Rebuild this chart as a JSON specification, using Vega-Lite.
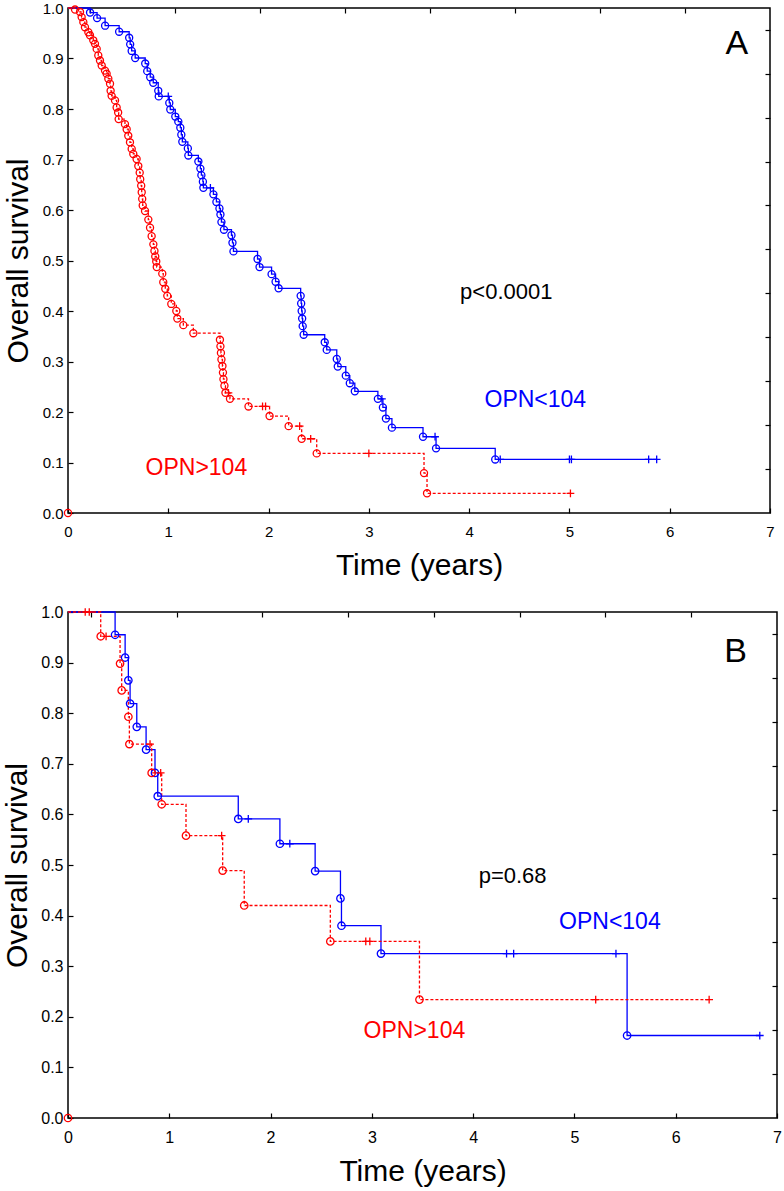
{
  "$schema": "https://vega.github.io/schema/vega-lite/v6.json",
  "padding": {"left": 2, "top": 0, "right": 0, "bottom": 0},
  "bounds": "flush",
  "spacing": 99,
  "config": {
    "font": "Liberation Sans",
    "view": {"stroke": "#000000", "strokeWidth": 1.5},
    "axis": {"grid": false, "domain": false, "tickColor": "#000000", "tickWidth": 1.2, "labelColor": "#000000", "titleColor": "#000000", "titleFontWeight": "normal", "labelOverlap": false, "labelFlush": false}
  },
  "datasets": {
    "km": [
      {"panel":"A","group":"OPN<104","kind":"start","t":0,"s":1},
      {"panel":"A","group":"OPN<104","kind":"event","t":0.22,"s":0.991},
      {"panel":"A","group":"OPN<104","kind":"event","t":0.29,"s":0.98},
      {"panel":"A","group":"OPN<104","kind":"event","t":0.37,"s":0.965},
      {"panel":"A","group":"OPN<104","kind":"event","t":0.51,"s":0.953},
      {"panel":"A","group":"OPN<104","kind":"event","t":0.61,"s":0.941},
      {"panel":"A","group":"OPN<104","kind":"event","t":0.62,"s":0.928},
      {"panel":"A","group":"OPN<104","kind":"event","t":0.635,"s":0.915},
      {"panel":"A","group":"OPN<104","kind":"event","t":0.67,"s":0.901},
      {"panel":"A","group":"OPN<104","kind":"event","t":0.77,"s":0.89},
      {"panel":"A","group":"OPN<104","kind":"event","t":0.79,"s":0.875},
      {"panel":"A","group":"OPN<104","kind":"event","t":0.82,"s":0.863},
      {"panel":"A","group":"OPN<104","kind":"event","t":0.85,"s":0.852},
      {"panel":"A","group":"OPN<104","kind":"event","t":0.9,"s":0.836},
      {"panel":"A","group":"OPN<104","kind":"event","t":0.905,"s":0.825},
      {"panel":"A","group":"OPN<104","kind":"censor","t":1.0,"s":0.825},
      {"panel":"A","group":"OPN<104","kind":"event","t":1.01,"s":0.812},
      {"panel":"A","group":"OPN<104","kind":"event","t":1.02,"s":0.799},
      {"panel":"A","group":"OPN<104","kind":"event","t":1.07,"s":0.785},
      {"panel":"A","group":"OPN<104","kind":"event","t":1.1,"s":0.775},
      {"panel":"A","group":"OPN<104","kind":"event","t":1.12,"s":0.763},
      {"panel":"A","group":"OPN<104","kind":"event","t":1.13,"s":0.749},
      {"panel":"A","group":"OPN<104","kind":"event","t":1.14,"s":0.735},
      {"panel":"A","group":"OPN<104","kind":"event","t":1.195,"s":0.722},
      {"panel":"A","group":"OPN<104","kind":"event","t":1.2,"s":0.708},
      {"panel":"A","group":"OPN<104","kind":"event","t":1.3,"s":0.696},
      {"panel":"A","group":"OPN<104","kind":"event","t":1.32,"s":0.682},
      {"panel":"A","group":"OPN<104","kind":"event","t":1.33,"s":0.669},
      {"panel":"A","group":"OPN<104","kind":"event","t":1.345,"s":0.656},
      {"panel":"A","group":"OPN<104","kind":"event","t":1.35,"s":0.644},
      {"panel":"A","group":"OPN<104","kind":"censor","t":1.42,"s":0.644},
      {"panel":"A","group":"OPN<104","kind":"event","t":1.45,"s":0.631},
      {"panel":"A","group":"OPN<104","kind":"event","t":1.48,"s":0.616},
      {"panel":"A","group":"OPN<104","kind":"event","t":1.51,"s":0.603},
      {"panel":"A","group":"OPN<104","kind":"event","t":1.52,"s":0.591},
      {"panel":"A","group":"OPN<104","kind":"event","t":1.53,"s":0.576},
      {"panel":"A","group":"OPN<104","kind":"event","t":1.555,"s":0.561},
      {"panel":"A","group":"OPN<104","kind":"event","t":1.63,"s":0.55},
      {"panel":"A","group":"OPN<104","kind":"event","t":1.64,"s":0.535},
      {"panel":"A","group":"OPN<104","kind":"event","t":1.65,"s":0.518},
      {"panel":"A","group":"OPN<104","kind":"event","t":1.89,"s":0.503},
      {"panel":"A","group":"OPN<104","kind":"event","t":1.91,"s":0.487},
      {"panel":"A","group":"OPN<104","kind":"event","t":2.03,"s":0.473},
      {"panel":"A","group":"OPN<104","kind":"event","t":2.07,"s":0.458},
      {"panel":"A","group":"OPN<104","kind":"event","t":2.1,"s":0.445},
      {"panel":"A","group":"OPN<104","kind":"event","t":2.32,"s":0.43},
      {"panel":"A","group":"OPN<104","kind":"event","t":2.325,"s":0.415},
      {"panel":"A","group":"OPN<104","kind":"event","t":2.33,"s":0.4},
      {"panel":"A","group":"OPN<104","kind":"event","t":2.335,"s":0.385},
      {"panel":"A","group":"OPN<104","kind":"event","t":2.34,"s":0.37},
      {"panel":"A","group":"OPN<104","kind":"event","t":2.35,"s":0.353},
      {"panel":"A","group":"OPN<104","kind":"event","t":2.56,"s":0.338},
      {"panel":"A","group":"OPN<104","kind":"event","t":2.58,"s":0.323},
      {"panel":"A","group":"OPN<104","kind":"event","t":2.68,"s":0.305},
      {"panel":"A","group":"OPN<104","kind":"event","t":2.69,"s":0.29},
      {"panel":"A","group":"OPN<104","kind":"event","t":2.77,"s":0.272},
      {"panel":"A","group":"OPN<104","kind":"event","t":2.81,"s":0.257},
      {"panel":"A","group":"OPN<104","kind":"event","t":2.86,"s":0.241},
      {"panel":"A","group":"OPN<104","kind":"event","t":3.09,"s":0.226},
      {"panel":"A","group":"OPN<104","kind":"censor","t":3.13,"s":0.226},
      {"panel":"A","group":"OPN<104","kind":"event","t":3.14,"s":0.209},
      {"panel":"A","group":"OPN<104","kind":"event","t":3.17,"s":0.187},
      {"panel":"A","group":"OPN<104","kind":"event","t":3.23,"s":0.169},
      {"panel":"A","group":"OPN<104","kind":"event","t":3.54,"s":0.151},
      {"panel":"A","group":"OPN<104","kind":"censor","t":3.66,"s":0.151},
      {"panel":"A","group":"OPN<104","kind":"event","t":3.67,"s":0.128},
      {"panel":"A","group":"OPN<104","kind":"event","t":4.26,"s":0.106},
      {"panel":"A","group":"OPN<104","kind":"censor","t":4.31,"s":0.106},
      {"panel":"A","group":"OPN<104","kind":"censor","t":5.0,"s":0.106},
      {"panel":"A","group":"OPN<104","kind":"censor","t":5.02,"s":0.106},
      {"panel":"A","group":"OPN<104","kind":"censor","t":5.79,"s":0.106},
      {"panel":"A","group":"OPN<104","kind":"censor","t":5.87,"s":0.106},

      {"panel":"A","group":"OPN>104","kind":"origin","t":0,"s":0},
      {"panel":"A","group":"OPN>104","kind":"start","t":0,"s":1},
      {"panel":"A","group":"OPN>104","kind":"event","t":0.07,"s":0.997},
      {"panel":"A","group":"OPN>104","kind":"event","t":0.12,"s":0.992},
      {"panel":"A","group":"OPN>104","kind":"event","t":0.136,"s":0.982},
      {"panel":"A","group":"OPN>104","kind":"event","t":0.153,"s":0.972},
      {"panel":"A","group":"OPN>104","kind":"event","t":0.169,"s":0.962},
      {"panel":"A","group":"OPN>104","kind":"event","t":0.203,"s":0.952},
      {"panel":"A","group":"OPN>104","kind":"event","t":0.219,"s":0.946},
      {"panel":"A","group":"OPN>104","kind":"event","t":0.252,"s":0.936},
      {"panel":"A","group":"OPN>104","kind":"event","t":0.269,"s":0.929},
      {"panel":"A","group":"OPN>104","kind":"event","t":0.286,"s":0.919},
      {"panel":"A","group":"OPN>104","kind":"event","t":0.302,"s":0.906},
      {"panel":"A","group":"OPN>104","kind":"event","t":0.319,"s":0.896},
      {"panel":"A","group":"OPN>104","kind":"event","t":0.336,"s":0.886},
      {"panel":"A","group":"OPN>104","kind":"event","t":0.369,"s":0.876},
      {"panel":"A","group":"OPN>104","kind":"event","t":0.385,"s":0.87},
      {"panel":"A","group":"OPN>104","kind":"event","t":0.402,"s":0.86},
      {"panel":"A","group":"OPN>104","kind":"event","t":0.419,"s":0.85},
      {"panel":"A","group":"OPN>104","kind":"event","t":0.425,"s":0.836},
      {"panel":"A","group":"OPN>104","kind":"event","t":0.435,"s":0.826},
      {"panel":"A","group":"OPN>104","kind":"event","t":0.469,"s":0.817},
      {"panel":"A","group":"OPN>104","kind":"event","t":0.485,"s":0.803},
      {"panel":"A","group":"OPN>104","kind":"event","t":0.5,"s":0.793},
      {"panel":"A","group":"OPN>104","kind":"event","t":0.505,"s":0.78},
      {"panel":"A","group":"OPN>104","kind":"event","t":0.568,"s":0.77},
      {"panel":"A","group":"OPN>104","kind":"event","t":0.585,"s":0.76},
      {"panel":"A","group":"OPN>104","kind":"event","t":0.601,"s":0.747},
      {"panel":"A","group":"OPN>104","kind":"event","t":0.618,"s":0.734},
      {"panel":"A","group":"OPN>104","kind":"event","t":0.635,"s":0.721},
      {"panel":"A","group":"OPN>104","kind":"event","t":0.651,"s":0.711},
      {"panel":"A","group":"OPN>104","kind":"event","t":0.684,"s":0.701},
      {"panel":"A","group":"OPN>104","kind":"event","t":0.701,"s":0.687},
      {"panel":"A","group":"OPN>104","kind":"event","t":0.715,"s":0.674},
      {"panel":"A","group":"OPN>104","kind":"event","t":0.72,"s":0.661},
      {"panel":"A","group":"OPN>104","kind":"event","t":0.73,"s":0.648},
      {"panel":"A","group":"OPN>104","kind":"event","t":0.735,"s":0.635},
      {"panel":"A","group":"OPN>104","kind":"event","t":0.74,"s":0.622},
      {"panel":"A","group":"OPN>104","kind":"event","t":0.745,"s":0.609},
      {"panel":"A","group":"OPN>104","kind":"event","t":0.768,"s":0.598},
      {"panel":"A","group":"OPN>104","kind":"event","t":0.801,"s":0.581},
      {"panel":"A","group":"OPN>104","kind":"event","t":0.818,"s":0.565},
      {"panel":"A","group":"OPN>104","kind":"event","t":0.834,"s":0.548},
      {"panel":"A","group":"OPN>104","kind":"event","t":0.851,"s":0.532},
      {"panel":"A","group":"OPN>104","kind":"event","t":0.862,"s":0.519},
      {"panel":"A","group":"OPN>104","kind":"event","t":0.87,"s":0.508},
      {"panel":"A","group":"OPN>104","kind":"event","t":0.88,"s":0.498},
      {"panel":"A","group":"OPN>104","kind":"event","t":0.885,"s":0.487},
      {"panel":"A","group":"OPN>104","kind":"event","t":0.94,"s":0.474},
      {"panel":"A","group":"OPN>104","kind":"event","t":0.95,"s":0.457},
      {"panel":"A","group":"OPN>104","kind":"event","t":0.97,"s":0.444},
      {"panel":"A","group":"OPN>104","kind":"event","t":0.99,"s":0.43},
      {"panel":"A","group":"OPN>104","kind":"event","t":1.03,"s":0.414},
      {"panel":"A","group":"OPN>104","kind":"event","t":1.08,"s":0.4},
      {"panel":"A","group":"OPN>104","kind":"event","t":1.09,"s":0.385},
      {"panel":"A","group":"OPN>104","kind":"event","t":1.15,"s":0.372},
      {"panel":"A","group":"OPN>104","kind":"event","t":1.25,"s":0.356},
      {"panel":"A","group":"OPN>104","kind":"event","t":1.515,"s":0.343},
      {"panel":"A","group":"OPN>104","kind":"event","t":1.52,"s":0.33},
      {"panel":"A","group":"OPN>104","kind":"event","t":1.525,"s":0.317},
      {"panel":"A","group":"OPN>104","kind":"event","t":1.53,"s":0.304},
      {"panel":"A","group":"OPN>104","kind":"event","t":1.54,"s":0.291},
      {"panel":"A","group":"OPN>104","kind":"event","t":1.545,"s":0.278},
      {"panel":"A","group":"OPN>104","kind":"event","t":1.55,"s":0.265},
      {"panel":"A","group":"OPN>104","kind":"event","t":1.56,"s":0.252},
      {"panel":"A","group":"OPN>104","kind":"event","t":1.57,"s":0.238},
      {"panel":"A","group":"OPN>104","kind":"censor","t":1.6,"s":0.238},
      {"panel":"A","group":"OPN>104","kind":"event","t":1.615,"s":0.226},
      {"panel":"A","group":"OPN>104","kind":"event","t":1.8,"s":0.211},
      {"panel":"A","group":"OPN>104","kind":"censor","t":1.94,"s":0.211},
      {"panel":"A","group":"OPN>104","kind":"censor","t":1.97,"s":0.211},
      {"panel":"A","group":"OPN>104","kind":"event","t":2.01,"s":0.192},
      {"panel":"A","group":"OPN>104","kind":"event","t":2.2,"s":0.172},
      {"panel":"A","group":"OPN>104","kind":"censor","t":2.31,"s":0.172},
      {"panel":"A","group":"OPN>104","kind":"event","t":2.33,"s":0.147},
      {"panel":"A","group":"OPN>104","kind":"censor","t":2.42,"s":0.147},
      {"panel":"A","group":"OPN>104","kind":"event","t":2.48,"s":0.118},
      {"panel":"A","group":"OPN>104","kind":"censor","t":3.0,"s":0.118},
      {"panel":"A","group":"OPN>104","kind":"event","t":3.55,"s":0.079},
      {"panel":"A","group":"OPN>104","kind":"event","t":3.58,"s":0.039},
      {"panel":"A","group":"OPN>104","kind":"censor","t":5.01,"s":0.039},

      {"panel":"B","group":"OPN<104","kind":"start","t":0,"s":1},
      {"panel":"B","group":"OPN<104","kind":"event","t":0.465,"s":0.955},
      {"panel":"B","group":"OPN<104","kind":"event","t":0.564,"s":0.91},
      {"panel":"B","group":"OPN<104","kind":"event","t":0.596,"s":0.865},
      {"panel":"B","group":"OPN<104","kind":"event","t":0.613,"s":0.819},
      {"panel":"B","group":"OPN<104","kind":"event","t":0.679,"s":0.773},
      {"panel":"B","group":"OPN<104","kind":"event","t":0.771,"s":0.728},
      {"panel":"B","group":"OPN<104","kind":"event","t":0.859,"s":0.682},
      {"panel":"B","group":"OPN<104","kind":"event","t":0.886,"s":0.636},
      {"panel":"B","group":"OPN<104","kind":"event","t":1.681,"s":0.591},
      {"panel":"B","group":"OPN<104","kind":"censor","t":1.78,"s":0.591},
      {"panel":"B","group":"OPN<104","kind":"event","t":2.092,"s":0.542},
      {"panel":"B","group":"OPN<104","kind":"censor","t":2.19,"s":0.542},
      {"panel":"B","group":"OPN<104","kind":"event","t":2.44,"s":0.488},
      {"panel":"B","group":"OPN<104","kind":"event","t":2.69,"s":0.434},
      {"panel":"B","group":"OPN<104","kind":"event","t":2.7,"s":0.38},
      {"panel":"B","group":"OPN<104","kind":"event","t":3.09,"s":0.325},
      {"panel":"B","group":"OPN<104","kind":"censor","t":4.33,"s":0.325},
      {"panel":"B","group":"OPN<104","kind":"censor","t":4.4,"s":0.325},
      {"panel":"B","group":"OPN<104","kind":"censor","t":5.41,"s":0.325},
      {"panel":"B","group":"OPN<104","kind":"event","t":5.52,"s":0.163},
      {"panel":"B","group":"OPN<104","kind":"censor","t":6.83,"s":0.163},

      {"panel":"B","group":"OPN>104","kind":"origin","t":0,"s":0},
      {"panel":"B","group":"OPN>104","kind":"start","t":0,"s":1},
      {"panel":"B","group":"OPN>104","kind":"censor","t":0.17,"s":1},
      {"panel":"B","group":"OPN>104","kind":"censor","t":0.21,"s":1},
      {"panel":"B","group":"OPN>104","kind":"event","t":0.323,"s":0.952},
      {"panel":"B","group":"OPN>104","kind":"censor","t":0.376,"s":0.952},
      {"panel":"B","group":"OPN>104","kind":"event","t":0.514,"s":0.898},
      {"panel":"B","group":"OPN>104","kind":"event","t":0.53,"s":0.845},
      {"panel":"B","group":"OPN>104","kind":"event","t":0.596,"s":0.793},
      {"panel":"B","group":"OPN>104","kind":"event","t":0.606,"s":0.739},
      {"panel":"B","group":"OPN>104","kind":"censor","t":0.81,"s":0.739},
      {"panel":"B","group":"OPN>104","kind":"event","t":0.826,"s":0.682},
      {"panel":"B","group":"OPN>104","kind":"censor","t":0.915,"s":0.682},
      {"panel":"B","group":"OPN>104","kind":"event","t":0.925,"s":0.62},
      {"panel":"B","group":"OPN>104","kind":"event","t":1.165,"s":0.558},
      {"panel":"B","group":"OPN>104","kind":"censor","t":1.517,"s":0.558},
      {"panel":"B","group":"OPN>104","kind":"event","t":1.527,"s":0.489},
      {"panel":"B","group":"OPN>104","kind":"event","t":1.74,"s":0.42},
      {"panel":"B","group":"OPN>104","kind":"event","t":2.59,"s":0.349},
      {"panel":"B","group":"OPN>104","kind":"censor","t":2.94,"s":0.349},
      {"panel":"B","group":"OPN>104","kind":"censor","t":2.98,"s":0.349},
      {"panel":"B","group":"OPN>104","kind":"event","t":3.47,"s":0.234},
      {"panel":"B","group":"OPN>104","kind":"censor","t":5.21,"s":0.234},
      {"panel":"B","group":"OPN>104","kind":"censor","t":6.33,"s":0.234}
    ],
    "notes": [
      {"panel":"A","label":"A","group":"none","role":"letter","t":6.67,"s":0.929},
      {"panel":"A","label":"p<0.0001","group":"none","role":"p","t":4.37,"s":0.437},
      {"panel":"A","label":"OPN<104","group":"OPN<104","role":"group","t":4.66,"s":0.224},
      {"panel":"A","label":"OPN>104","group":"OPN>104","role":"group","t":1.28,"s":0.089},
      {"panel":"B","label":"B","group":"none","role":"letter","t":6.59,"s":0.921},
      {"panel":"B","label":"p=0.68","group":"none","role":"p","t":4.39,"s":0.478},
      {"panel":"B","label":"OPN<104","group":"OPN<104","role":"group","t":5.35,"s":0.388},
      {"panel":"B","label":"OPN>104","group":"OPN>104","role":"group","t":3.42,"s":0.171}
    ]
  },
  "vconcat": [
    {
      "width": 702,
      "height": 505,
      "resolve": {"axis": {"x": "independent", "y": "independent"}},
      "layer": [
        {
          "data": {"name": "km"},
          "transform": [{"filter": "datum.panel === 'A' && datum.kind !== 'origin'"}],
          "mark": {"type": "line", "interpolate": "step-after", "strokeWidth": 1.3},
          "encoding": {
            "x": {"field": "t", "type": "quantitative", "scale": {"domain": [0, 7], "nice": false, "zero": false},
                  "axis": {"values": [0,1,2,3,4,5,6,7], "format": "d", "title": "Time (years)", "labelFontSize": 15, "titleFontSize": 30, "tickSize": -5, "labelPadding": 16, "titlePadding": 11}},
            "y": {"field": "s", "type": "quantitative", "scale": {"domain": [0, 1], "nice": false},
                  "axis": {"values": [0,0.1,0.2,0.3,0.4,0.5,0.6,0.7,0.8,0.9,1.0], "format": ".1f", "title": "Overall survival", "labelFontSize": 15, "titleFontSize": 30, "tickSize": -5, "labelPadding": 10, "titlePadding": 9}},
            "color": {"field": "group", "type": "nominal", "scale": {"domain": ["OPN<104", "OPN>104", "none"], "range": ["#0000ff", "#ff0000", "#000000"]}, "legend": null},
            "strokeDash": {"field": "group", "type": "nominal", "scale": {"domain": ["OPN<104", "OPN>104"], "range": [[1, 0], [3, 2]]}, "legend": null}
          }
        },
        {
          "data": {"name": "km"},
          "transform": [{"filter": "datum.panel === 'A' && (datum.kind === 'event' || datum.kind === 'origin')"}],
          "mark": {"type": "point", "shape": "circle", "filled": false, "size": 50, "strokeWidth": 1.3, "opacity": 1},
          "encoding": {
            "x": {"field": "t", "type": "quantitative", "axis": null},
            "y": {"field": "s", "type": "quantitative", "axis": null},
            "color": {"field": "group", "type": "nominal", "legend": null}
          }
        },
        {
          "data": {"name": "km"},
          "transform": [{"filter": "datum.panel === 'A' && datum.kind === 'censor'"}],
          "mark": {"type": "point", "shape": "M-1,0H1M0,-1V1", "filled": false, "size": 60, "strokeWidth": 1.3, "opacity": 1},
          "encoding": {
            "x": {"field": "t", "type": "quantitative", "axis": null},
            "y": {"field": "s", "type": "quantitative", "axis": null},
            "color": {"field": "group", "type": "nominal", "legend": null}
          }
        },
        {
          "data": {"name": "notes"},
          "transform": [{"filter": "datum.panel === 'A' && datum.role === 'group'"}],
          "mark": {"type": "text", "align": "center", "baseline": "middle", "fontSize": 23},
          "encoding": {
            "x": {"field": "t", "type": "quantitative", "axis": null},
            "y": {"field": "s", "type": "quantitative", "axis": null},
            "text": {"field": "label"},
            "color": {"field": "group", "type": "nominal", "legend": null}
          }
        },
        {
          "data": {"name": "notes"},
          "transform": [{"filter": "datum.panel === 'A' && datum.role === 'p'"}],
          "mark": {"type": "text", "align": "center", "baseline": "middle", "fontSize": 22, "color": "#000000"},
          "encoding": {
            "x": {"field": "t", "type": "quantitative", "axis": null},
            "y": {"field": "s", "type": "quantitative", "axis": null},
            "text": {"field": "label"}
          }
        },
        {
          "data": {"name": "notes"},
          "transform": [{"filter": "datum.panel === 'A' && datum.role === 'letter'"}],
          "mark": {"type": "text", "align": "center", "baseline": "middle", "fontSize": 34, "color": "#000000"},
          "encoding": {
            "x": {"field": "t", "type": "quantitative", "axis": null},
            "y": {"field": "s", "type": "quantitative", "axis": null},
            "text": {"field": "label"}
          }
        },
        {
          "data": {"name": "km"},
          "transform": [{"filter": "datum.panel === 'A' && datum.kind === 'start'"}],
          "mark": {"type": "point", "opacity": 0},
          "encoding": {
            "x": {"field": "t", "type": "quantitative", "axis": {"orient": "top", "values": [0.22, 1.067, 1.914, 2.761, 3.608, 4.455, 5.302, 6.149], "labels": false, "title": null, "tickSize": -5}},
            "y": {"field": "s", "type": "quantitative", "axis": {"orient": "right", "values": [0.087, 0.174, 0.261, 0.348, 0.435, 0.522, 0.609, 0.696, 0.783, 0.87, 0.957], "labels": false, "title": null, "tickSize": -5}}
          }
        }
      ]
    },
    {
      "width": 709,
      "height": 506,
      "resolve": {"axis": {"x": "independent", "y": "independent"}},
      "layer": [
        {
          "data": {"name": "km"},
          "transform": [{"filter": "datum.panel === 'B' && datum.kind !== 'origin'"}],
          "mark": {"type": "line", "interpolate": "step-after", "strokeWidth": 1.3},
          "encoding": {
            "x": {"field": "t", "type": "quantitative", "scale": {"domain": [0, 7], "nice": false, "zero": false},
                  "axis": {"values": [0,1,2,3,4,5,6,7], "format": "d", "title": "Time (years)", "labelFontSize": 16, "titleFontSize": 30, "tickSize": -5, "labelPadding": 16, "titlePadding": 11}},
            "y": {"field": "s", "type": "quantitative", "scale": {"domain": [0, 1], "nice": false},
                  "axis": {"values": [0,0.1,0.2,0.3,0.4,0.5,0.6,0.7,0.8,0.9,1.0], "format": ".1f", "title": "Overall survival", "labelFontSize": 16, "titleFontSize": 30, "tickSize": -5, "labelPadding": 10, "titlePadding": 8}},
            "color": {"field": "group", "type": "nominal", "scale": {"domain": ["OPN<104", "OPN>104", "none"], "range": ["#0000ff", "#ff0000", "#000000"]}, "legend": null},
            "strokeDash": {"field": "group", "type": "nominal", "scale": {"domain": ["OPN<104", "OPN>104"], "range": [[1, 0], [3, 2]]}, "legend": null}
          }
        },
        {
          "data": {"name": "km"},
          "transform": [{"filter": "datum.panel === 'B' && (datum.kind === 'event' || datum.kind === 'origin')"}],
          "mark": {"type": "point", "shape": "circle", "filled": false, "size": 55, "strokeWidth": 1.3, "opacity": 1},
          "encoding": {
            "x": {"field": "t", "type": "quantitative", "axis": null},
            "y": {"field": "s", "type": "quantitative", "axis": null},
            "color": {"field": "group", "type": "nominal", "legend": null}
          }
        },
        {
          "data": {"name": "km"},
          "transform": [{"filter": "datum.panel === 'B' && datum.kind === 'censor'"}],
          "mark": {"type": "point", "shape": "M-1,0H1M0,-1V1", "filled": false, "size": 60, "strokeWidth": 1.3, "opacity": 1},
          "encoding": {
            "x": {"field": "t", "type": "quantitative", "axis": null},
            "y": {"field": "s", "type": "quantitative", "axis": null},
            "color": {"field": "group", "type": "nominal", "legend": null}
          }
        },
        {
          "data": {"name": "notes"},
          "transform": [{"filter": "datum.panel === 'B' && datum.role === 'group'"}],
          "mark": {"type": "text", "align": "center", "baseline": "middle", "fontSize": 23},
          "encoding": {
            "x": {"field": "t", "type": "quantitative", "axis": null},
            "y": {"field": "s", "type": "quantitative", "axis": null},
            "text": {"field": "label"},
            "color": {"field": "group", "type": "nominal", "legend": null}
          }
        },
        {
          "data": {"name": "notes"},
          "transform": [{"filter": "datum.panel === 'B' && datum.role === 'p'"}],
          "mark": {"type": "text", "align": "center", "baseline": "middle", "fontSize": 22, "color": "#000000"},
          "encoding": {
            "x": {"field": "t", "type": "quantitative", "axis": null},
            "y": {"field": "s", "type": "quantitative", "axis": null},
            "text": {"field": "label"}
          }
        },
        {
          "data": {"name": "notes"},
          "transform": [{"filter": "datum.panel === 'B' && datum.role === 'letter'"}],
          "mark": {"type": "text", "align": "center", "baseline": "middle", "fontSize": 34, "color": "#000000"},
          "encoding": {
            "x": {"field": "t", "type": "quantitative", "axis": null},
            "y": {"field": "s", "type": "quantitative", "axis": null},
            "text": {"field": "label"}
          }
        },
        {
          "data": {"name": "km"},
          "transform": [{"filter": "datum.panel === 'B' && datum.kind === 'start'"}],
          "mark": {"type": "point", "opacity": 0},
          "encoding": {
            "x": {"field": "t", "type": "quantitative", "axis": {"orient": "top", "values": [0.226, 1.073, 1.919, 2.766, 3.612, 4.459, 5.305, 6.152], "labels": false, "title": null, "tickSize": -5}},
            "y": {"field": "s", "type": "quantitative", "axis": {"orient": "right", "values": [0.087, 0.174, 0.261, 0.348, 0.435, 0.522, 0.609, 0.696, 0.783, 0.87, 0.957], "labels": false, "title": null, "tickSize": -5}}
          }
        }
      ]
    }
  ]
}
